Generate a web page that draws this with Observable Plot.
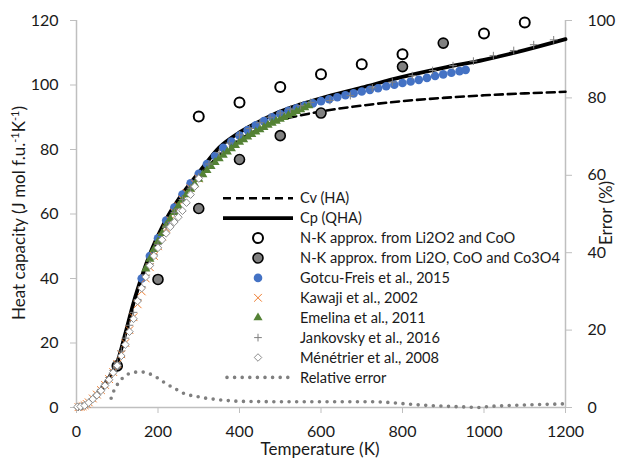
<!DOCTYPE html>
<html><head><meta charset="utf-8">
<script src="https://cdn.jsdelivr.net/npm/d3@7"></script>
<script src="https://cdn.jsdelivr.net/npm/@observablehq/plot@0.6"></script>
<style>body{margin:0;background:#fff}#chart{width:628px;height:458px}</style>
</head><body><div id="chart"></div>
<script>
// ---- data ----
const xTicks = [0, 200, 400, 600, 800, 1000, 1200];
const yTicks = [0, 20, 40, 60, 80, 100, 120];
const errTicks = [0, 20, 40, 60, 80, 100];

const cpT = [0,20,40,60,80,100,120,140,160,180,200,225,250,275,300,350,400,450,500,550,600,700,800,900,1000,1100,1200];
const cpV = [0,0.6,2.8,5.6,9.3,14,23,32.5,40.5,47.5,53.3,59.5,64.5,68.8,72.8,80.6,85.3,88.8,91.8,94,95.9,99.2,102.5,105.3,107.8,110.8,114.2];

const cvT = [0,20,40,60,80,100,120,140,160,180,200,250,300,350,400,450,500,550,600,700,800,900,1000,1100,1200];
const cvV = [0,0.6,2.8,5.6,9.3,14,23,32.3,40.2,47,52.7,63.5,71.5,78.2,83,86.5,89.2,90.6,91.8,93.6,95,96,96.8,97.4,97.9];

const nkOpenT = [300,400,500,600,700,800,1000,1100];
const nkOpenV = [90.2,94.6,99.4,103.3,106.4,109.5,116,119.4];

const nkGrayT = [100,200,300,400,500,600,800,900];
const nkGrayV = [12.9,39.7,61.7,76.9,84.3,91.3,105.7,113];

const gotcuT = [160,180,200,220,240,260,280,300,320,340,360,380,400,420,440,460,480,500,520,540,560,580,600,620,640,660,680,700,720,740,760,780,800,820,840,860,880,900,920,940,955];
const gotcuV = [40,47,52.5,58,62,66,69.5,72.5,75.5,78,80.5,82.5,84.3,86,87.5,88.8,90,91,92,92.8,93.6,94.3,95,95.6,96.2,96.8,97.4,98,98.5,99,99.6,100.1,100.6,101.1,101.6,102.2,102.8,103.3,103.8,104.3,104.7];

const kawajiT = [5,10,15,20,25,30,40,50,60,70,80,90,100,110,120,130,140,150,160,170,180,190,200,210,220,230,240,250,260,270,280,290,300];
const kawajiV = [0.1,0.2,0.4,0.7,1.1,1.6,2.8,4,5.4,7,8.8,11,13.5,16.5,20,24,28,32,36,40,43.5,47,50,53,55.5,58,60.5,62.5,64.5,66.5,68,69.5,71];

const emelinaT = [170,180,190,200,210,220,230,240,250,260,270,280,290,300,310,320,330,340,350,360,370,380,390,400,410,420,430,440,450,460,470,480,490,500,510,520,530,540,550,560,570];
const emelinaV = [43,46,49,51.5,54,56.5,58.5,60.5,62.5,64.3,66,67.7,69.2,70.8,72.2,73.5,74.8,76,77.2,78.3,79.3,80.3,81.3,82.3,83.1,83.9,84.7,85.5,86.2,86.9,87.6,88.2,88.8,89.4,90,90.6,91.2,91.8,92.4,93,93.6];

const jankT = [5,10,15,20,30,40,50,60,70,80,90,100,110,120,130,140,150,160,170,180,190,200,220,240,260,280,300,325,350,375,400,425,450,475,500,525,550,575,622,672,726,775,824,874,924,974,1023,1073,1122,1171];
const jankV = [0.1,0.2,0.4,0.7,1.6,2.8,4.1,5.6,7.3,9.3,11.5,14,17.5,21.5,25.5,29.5,33.5,37.5,41,44.5,47.5,50.5,56,60.5,64.5,68,71.5,75.5,79,82,84.5,86.5,88.3,90,91.3,92.5,93.6,94.6,95.2,96.7,99.1,100.9,102.9,104.5,106,107.4,109.1,110.7,112.5,114];

const menT = [2,10,20,30,40,50,60,70,80,90,100,110,120,130,140,150,160,170,180,190,200,210,220,230,240,250,260,270,280,290,300];
const menV = [0.2,0.3,0.6,1.5,2.6,3.8,5.2,6.8,8.6,10.8,13,16,19.5,23.5,27.5,33,37,40.5,44,47,49.5,52,54,56,57.5,59,61,63.5,66,68.5,71];

const errT = [85,92,104,120,137,157,177,198,218,243,267,292,312,333,370,400,500,600,700,750,800,850,900,950,990,1010,1050,1100,1150,1200];
const errV = [2.4,4.4,6.5,8.2,9.0,9.2,8.8,7.7,6.3,4.8,3.5,2.9,2.5,2.2,1.8,1.6,1.5,1.5,1.5,1.4,1.0,0.6,0.35,0.15,0.0,0.25,0.45,0.65,0.8,0.95];

const legendLabels = ["Cv (HA)","Cp (QHA)","N-K approx. from Li2O2 and CoO","N-K approx. from Li2O, CoO and Co3O4","Gotcu-Freis et al., 2015","Kawaji et al., 2002","Emelina et al., 2011","Jankovsky et al., 2016","Ménétrier et al., 2008","Relative error"];

// ---- tables ----
const tbl = (T, V) => T.map((t, i) => ({T: t, v: V[i]}));
const cp = tbl(cpT, cpV), cv = tbl(cvT, cvV);
const nkOpen = tbl(nkOpenT, nkOpenV), nkGray = tbl(nkGrayT, nkGrayV);
const gotcu = tbl(gotcuT, gotcuV), kawaji = tbl(kawajiT, kawajiV);
const emelina = tbl(emelinaT, emelinaV), jank = tbl(jankT, jankV), men = tbl(menT, menV);
const err = tbl(errT, errV);
const ERR_SCALE = 120 / 100; // right axis 0–100 % shares the 0–120 range

const FONT = "Lato, 'Open Sans', sans-serif";
const AX = "#bfbfbf", TXT = "#1a1a1a";
const C = {blue:"#4472C4", orange:"#ED7D31", green:"#548235", gray:"#7f7f7f", light:"#8c8c8c"};

const plot = Plot.plot({
  width: 628, height: 458,
  marginLeft: 76, marginRight: 63, marginTop: 20, marginBottom: 51,
  style: {fontFamily: FONT, fontSize: "16px", background: "white", overflow: "visible"},
  x: {domain: [0, 1200]},
  y: {domain: [0, 120]},
  marks: [
    Plot.axisX({ticks: xTicks, tickSize: 6, tickPadding: 12, stroke: AX, fill: TXT, label: null, tickFormat: d => String(d)}),
    Plot.axisY({ticks: yTicks, tickSize: 6, tickPadding: 12, stroke: AX, fill: TXT, label: null, tickFormat: d => String(d)}),
    Plot.axisY({anchor: "right", ticks: errTicks.map(d => d * ERR_SCALE), tickFormat: d => String(Math.round(d / ERR_SCALE)), tickSize: 6, tickPadding: 16, stroke: AX, fill: TXT, label: null}),
    Plot.ruleY([0], {stroke: AX, strokeWidth: 1.5}),
    Plot.ruleX([0], {stroke: AX, strokeWidth: 1.5}),
    Plot.ruleX([1200], {stroke: AX, strokeWidth: 1.5}),
    Plot.line(cv, {x: "T", y: "v", stroke: "black", strokeWidth: 2.6, strokeDasharray: "8 5", curve: "monotone-x"}),
    Plot.line(cp, {x: "T", y: "v", stroke: "black", strokeWidth: 3.8, curve: "monotone-x"}),
    Plot.dot(nkOpen, {x: "T", y: "v", r: 5, fill: "white", stroke: "black", strokeWidth: 2}),
    Plot.dot(nkGray, {x: "T", y: "v", r: 5, fill: "#808080", stroke: "black", strokeWidth: 1.6}),
    Plot.dot(gotcu, {x: "T", y: "v", r: 4.3, fill: C.blue, stroke: "none"}),
    Plot.dot(kawaji, {x: "T", y: "v", symbol: "times", r: 3.6, stroke: C.orange, strokeWidth: 1}),
    Plot.dot(emelina, {x: "T", y: "v", symbol: "triangle", r: 3.4, fill: C.green, stroke: "none"}),
    Plot.dot(jank, {x: "T", y: "v", symbol: "plus", r: 2.6, stroke: C.gray, strokeWidth: 1}),
    Plot.dot(men, {x: "T", y: "v", symbol: "diamond2", r: 3.4, fill: "white", stroke: C.light, strokeWidth: 1}),
    Plot.line(err, {x: "T", y: d => d.v * ERR_SCALE, stroke: C.gray, strokeWidth: 3.6, strokeDasharray: "0 7.6", strokeLinecap: "round", curve: "monotone-x"})
  ]
});
document.getElementById("chart").append(plot);

// ---- axis titles ----
const svg = d3.select(plot);
svg.append("text").attr("x", 320).attr("y", 455).attr("text-anchor", "middle")
  .attr("font-family", FONT).attr("font-size", 17).attr("fill", TXT).text("Temperature (K)");
const yt = svg.append("text").attr("transform", "translate(25,213) rotate(-90)").attr("text-anchor", "middle")
  .attr("font-family", FONT).attr("font-size", 17).attr("fill", TXT);
yt.append("tspan").text("Heat capacity (J mol f.u.");
yt.append("tspan").attr("font-size", 11).attr("dy", -6).text("-1");
yt.append("tspan").attr("dy", 6).text("K");
yt.append("tspan").attr("font-size", 11).attr("dy", -6).text("-1");
yt.append("tspan").attr("dy", 6).text(")");
svg.append("text").attr("transform", "translate(612,213) rotate(-90)").attr("text-anchor", "middle")
  .attr("font-family", FONT).attr("font-size", 17).attr("fill", TXT).text("Error (%)");

// ---- legend ----
const lg = svg.append("g").attr("font-family", FONT).attr("font-size", 14.6).attr("fill", TXT).attr("text-anchor", "start");
const lx0 = 223, lx1 = 293, sx = 258, tx = 300, ly0 = 198.3, dyRow = 19.9;
const sym = (type, r) => d3.symbol(type, Math.PI * r * r)();
legendLabels.forEach((lab, i) => {
  const y = ly0 + i * dyRow;
  const g = lg.append("g");
  if (i === 0) g.append("line").attr("x1", lx0).attr("x2", lx1).attr("y1", y).attr("y2", y).attr("stroke", "black").attr("stroke-width", 2.6).attr("stroke-dasharray", "8 5");
  if (i === 1) g.append("line").attr("x1", lx0).attr("x2", lx1).attr("y1", y).attr("y2", y).attr("stroke", "black").attr("stroke-width", 3.8);
  if (i === 2) g.append("circle").attr("cx", sx).attr("cy", y).attr("r", 5).attr("fill", "white").attr("stroke", "black").attr("stroke-width", 2);
  if (i === 3) g.append("circle").attr("cx", sx).attr("cy", y).attr("r", 5).attr("fill", "#808080").attr("stroke", "black").attr("stroke-width", 1.6);
  if (i === 4) g.append("circle").attr("cx", sx).attr("cy", y).attr("r", 4.3).attr("fill", C.blue);
  if (i === 5) g.append("path").attr("d", sym(d3.symbolTimes, 3.6)).attr("transform", `translate(${sx},${y})`).attr("fill", "none").attr("stroke", C.orange).attr("stroke-width", 1);
  if (i === 6) g.append("path").attr("d", sym(d3.symbolTriangle, 3.4)).attr("transform", `translate(${sx},${y})`).attr("fill", C.green);
  if (i === 7) g.append("path").attr("d", sym(d3.symbolPlus, 2.6)).attr("transform", `translate(${sx},${y})`).attr("fill", "none").attr("stroke", C.gray).attr("stroke-width", 1);
  if (i === 8) g.append("path").attr("d", sym(d3.symbolDiamond2, 3.4)).attr("transform", `translate(${sx},${y})`).attr("fill", "white").attr("stroke", C.light).attr("stroke-width", 1);
  if (i === 9) g.append("line").attr("x1", lx0 + 4).attr("x2", lx1).attr("y1", y).attr("y2", y).attr("stroke", C.gray).attr("stroke-width", 3.6).attr("stroke-dasharray", "0 7.6").attr("stroke-linecap", "round");
  g.append("text").attr("x", tx).attr("y", y).attr("dy", "0.35em").text(lab);
});
</script>
</body></html>
